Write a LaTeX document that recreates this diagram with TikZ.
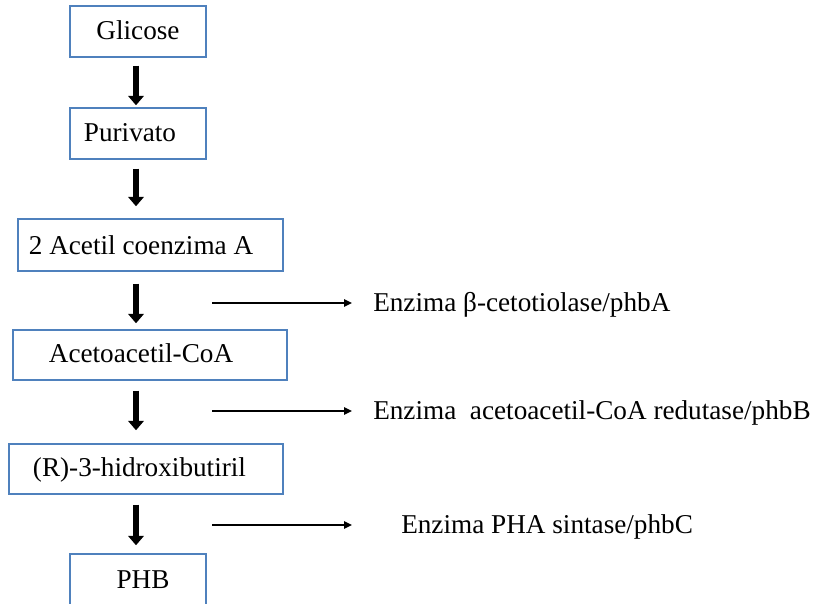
\documentclass[tikz,border=0pt]{standalone}
\usepackage{fontspec}
\setmainfont{Liberation Serif}
\usetikzlibrary{arrows.meta}
\begin{document}
\begin{tikzpicture}[x=0.75pt,y=-0.75pt,
  box/.style={draw=boxblue, line width=1.1pt, inner sep=0pt, minimum width=#1},
  lbl/.style={font=\fontsize{20.4}{24}\selectfont, inner sep=0pt, text height=14.28pt, text depth=5.1pt},
  enz/.style={font=\fontsize{20.4}{24}\selectfont, anchor=base west, inner sep=0pt},
  bigarrow/.style={line width=4.3pt, -{Triangle[width=11.5pt,length=7pt]}},
  thinarrow/.style={line width=1.1pt, -{Triangle[width=5.5pt,length=6pt]}}]
\definecolor{boxblue}{RGB}{79,129,189}
\useasboundingbox (0,0) rectangle (817,603);
\clip (0,0) rectangle (817,603);
% boxes
\node[box=102pt, minimum height=38.25pt, label={[lbl, yshift=-1.05pt]center:Glicose}] (glicose) at (138,31.5) {};
\node[box=102pt, minimum height=38.25pt, label={[lbl, xshift=-6pt, yshift=-1.4pt]center:Purivato}] (purivato) at (138,133.5) {};
\node[box=198.75pt, minimum height=39pt, label={[lbl, xshift=-7.1pt, yshift=-2.2pt]center:2 Acetil coenzima A}] (acetil) at (150.5,245) {};
\node[box=205.5pt, minimum height=37.5pt, label={[lbl, xshift=-6.75pt, yshift=-1.2pt]center:Acetoacetil-CoA}] (acetoacetil) at (150,355) {};
\node[box=205.5pt, minimum height=37.5pt, label={[lbl, xshift=-4.9pt, yshift=-1.4pt]center:(R)-3-hidroxibutiril}] (hidroxi) at (146,469) {};
\node[box=102pt, minimum height=49.5pt, label={[lbl, xshift=3.75pt, yshift=3.8pt]center:PHB}] (phb) at (138,587) {};
% enzyme labels
\node[enz] (e1) at (373,311) {Enzima β-cetotiolase/phbA};
\node[enz] (e2) at (373,419) {Enzima\ \ acetoacetil-CoA redutase/phbB};
\node[enz] (e3) at (401,533) {Enzima PHA sintase/phbC};
% vertical arrows
\coordinate (ax) at (136,0);
\draw[bigarrow] ([yshift=-6pt]ax |- glicose.south) -- ([yshift=1.5pt]ax |- purivato.north);
\draw[bigarrow] ([yshift=-6.75pt]ax |- purivato.south) -- ([yshift=9pt]ax |- acetil.north);
\draw[bigarrow] ([yshift=-9pt]ax |- acetil.south) -- ([yshift=4.5pt]ax |- acetoacetil.north);
\draw[bigarrow] ([yshift=-7.5pt]ax |- acetoacetil.south) -- ([yshift=9.75pt]ax |- hidroxi.north);
\draw[bigarrow] ([yshift=-7.5pt]ax |- hidroxi.south) -- ([yshift=6pt]ax |- phb.north);
% horizontal arrows
\coordinate (h1) at (212,303);
\coordinate (h2) at (212,411);
\coordinate (h3) at (212,525);
\draw[thinarrow, shorten >=15.75pt] (h1) -- (h1 -| e1.west);
\draw[thinarrow, shorten >=15.75pt] (h2) -- (h2 -| e2.west);
\draw[thinarrow, shorten >=36.75pt] (h3) -- (h3 -| e3.west);
\end{tikzpicture}
\end{document}
